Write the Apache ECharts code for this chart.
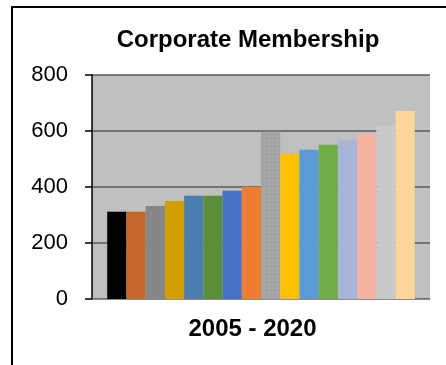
<!DOCTYPE html>
<html>
<head>
<meta charset="utf-8">
<script src="https://cdn.jsdelivr.net/npm/echarts@6/dist/echarts.min.js"></script>
<style>
  html, body { margin: 0; padding: 0; background: #fff; }
  #chart { width: 446px; height: 365px; }
</style>
</head>
<body>
<div id="chart"></div>
<script>
// Corporate membership per year, 2005 through 2020
const years = ['2005', '2006', '2007', '2008', '2009', '2010', '2011', '2012',
               '2013', '2014', '2015', '2016', '2017', '2018', '2019', '2020'];
const members = [312, 312, 332, 350, 369, 369, 387, 400,
                 597, 519, 533, 551, 567, 589, 621, 671];
const barColors = ['#000000', '#C5662A', '#878787', '#D39F00', '#4A7EAF', '#5B8E3A', '#4472C4', '#ED7D31',
                   '#A3A3A3', '#FFC000', '#5B9BD5', '#70AD47', '#A8B5DA', '#F3B5A1', '#C8C8C8', '#FFD699'];
const dottedYears = ['2013', '2019'];
const yTicks = [0, 200, 400, 600, 800];
const groupLabel = '2005 - 2020';

// Fine light dot texture for the plot background
function dotPattern(base, dot) {
  const c = document.createElement('canvas');
  c.width = 4; c.height = 4;
  const g = c.getContext('2d');
  g.fillStyle = base; g.fillRect(0, 0, 4, 4);
  g.fillStyle = dot; g.fillRect(0, 0, 1, 1); g.fillRect(2, 2, 1, 1);
  return { image: c, repeat: 'repeat' };
}

const chart = echarts.init(document.getElementById('chart'), null, { renderer: 'canvas' });

const series = years.map((y, i) => {
  const itemStyle = { color: barColors[i] };
  if (dottedYears.includes(y)) {
    itemStyle.decal = {
      symbol: 'rect', symbolSize: 1, color: 'rgba(255,255,255,0.22)',
      dashArrayX: [1, 3], dashArrayY: [1, 3]
    };
  }
  return {
    name: y,
    type: 'bar',
    data: [members[i]],
    barGap: '0%',
    barCategoryGap: '9%',
    itemStyle: itemStyle,
    emphasis: { disabled: true }
  };
});

const font = 'Liberation Sans, Arial, sans-serif';

chart.setOption({
  animation: false,
  backgroundColor: '#ffffff',
  title: {
    text: 'Corporate Membership',
    left: 243, textAlign: 'center', top: 23,
    textStyle: { fontFamily: font, fontSize: 24, fontWeight: 'bold', color: '#000' }
  },
  grid: {
    left: 92, right: 16, top: 75, bottom: 66,
    show: true,
    backgroundColor: dotPattern('#BEBEBE', '#CACACA'),
    borderWidth: 0
  },
  xAxis: {
    type: 'category',
    data: [groupLabel],
    axisLine: { show: true, lineStyle: { color: '#8C8C8C', width: 1 } },
    axisTick: { show: false },
    axisLabel: {
      margin: 18,
      padding: [0, 17, 0, 0],
      fontFamily: font, fontSize: 24, fontWeight: 'bold', color: '#000'
    }
  },
  yAxis: {
    type: 'value',
    min: yTicks[0], max: yTicks[yTicks.length - 1], interval: 200,
    axisLine: { show: true, lineStyle: { color: '#000', width: 1.5 } },
    axisTick: { show: true, length: 7, inside: false, lineStyle: { color: '#000', width: 1.5 } },
    axisLabel: {
      margin: 24,
      fontFamily: font, fontSize: 22, color: '#000'
    },
    splitLine: { show: true, lineStyle: { color: '#5A5A5A', width: 1.5 } }
  },
  graphic: [
    { type: 'line', shape: { x1: 11, y1: 7, x2: 446, y2: 7 }, style: { stroke: '#000', lineWidth: 2 } },
    { type: 'line', shape: { x1: 12, y1: 6, x2: 12, y2: 365 }, style: { stroke: '#000', lineWidth: 2 } }
  ],
  series: series
});
</script>
</body>
</html>
